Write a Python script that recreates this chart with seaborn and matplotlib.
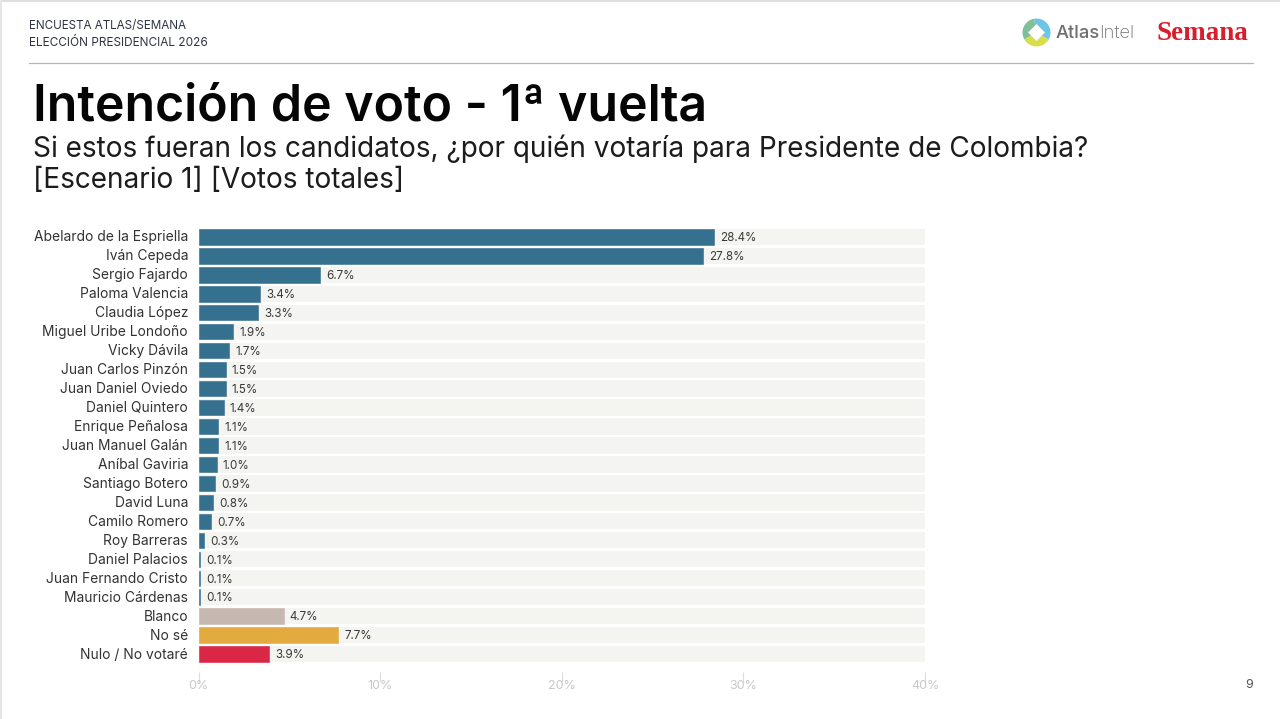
import matplotlib
matplotlib.use("Agg")
import matplotlib.pyplot as plt
from matplotlib.patches import Wedge, Polygon, Rectangle
from matplotlib.transforms import ScaledTranslation
import seaborn as sns
import pandas as pd

candidates = ["Abelardo de la Espriella", "Iván Cepeda", "Sergio Fajardo", "Paloma Valencia",
              "Claudia López", "Miguel Uribe Londoño", "Vicky Dávila", "Juan Carlos Pinzón",
              "Juan Daniel Oviedo", "Daniel Quintero", "Enrique Peñalosa", "Juan Manuel Galán",
              "Aníbal Gaviria", "Santiago Botero", "David Luna", "Camilo Romero", "Roy Barreras",
              "Daniel Palacios", "Juan Fernando Cristo", "Mauricio Cárdenas", "Blanco", "No sé",
              "Nulo / No votaré"]
votes = [28.4, 27.8, 6.7, 3.4, 3.3, 1.9, 1.7, 1.5, 1.5, 1.4, 1.1, 1.1, 1.0, 0.9, 0.8, 0.7, 0.3,
         0.1, 0.1, 0.1, 4.7, 7.7, 3.9]
x_ticks = [0, 10, 20, 30, 40]

BLUE = "#35708f"
bar_colors = [BLUE] * 20 + ["#c6b8b0", "#e3aa3f", "#d92745"]

sns.set_theme(style="white")
plt.rcParams["font.family"] = ["Inter", "DejaVu Sans"]

W, H = 1280, 719
fig = plt.figure(figsize=(W / 100, H / 100), dpi=100, facecolor="white")
ax = fig.add_axes([198.5 / W, 1 - 663.5 / H, (925 - 198.5) / W, 436 / H])

df = pd.DataFrame({"candidato": candidates, "voto": votes, "track": [x_ticks[-1]] * len(votes)})

# light track behind each bar
sns.barplot(data=df, x="track", y="candidato", color="#f4f4f1", width=0.86, saturation=1,
            linewidth=0, ax=ax)
n_track = len(ax.patches)
sns.barplot(data=df, x="voto", y="candidato", hue="candidato", palette=bar_colors, legend=False,
            width=0.81, saturation=1, dodge=False, linewidth=0, ax=ax)

for bar, v in zip(ax.patches[n_track:], votes):
    # thin edge so the 0.1% slivers stay visible
    bar.set_edgecolor(bar.get_facecolor())
    bar.set_linewidth(0.4)
    ax.text(v + 0.33, bar.get_y() + bar.get_height() / 2 + 0.07, f"{v:.1f}%", va="center", ha="left",
            fontsize=8.4, color="#3a3a3a")

ax.set_xlim(0, 40)
ax.set_ylim(len(votes) - 0.5, -0.5)
ax.set_xlabel("")
ax.set_ylabel("")
sns.despine(ax=ax, left=True, bottom=True)
ax.set_xticks(x_ticks)
ax.set_xticklabels([f"{t}%" for t in x_ticks], fontsize=9, color="#c8c8c8")
ax.tick_params(axis="x", length=7, width=0.8, color="#dddddd", pad=5, bottom=True)
ax.tick_params(axis="y", length=0, pad=7.5, labelsize=9.95, labelcolor="#333333")
for t in ax.get_xticklines():
    t.set_transform(t.get_transform() + ScaledTranslation(0, -8 / 100, fig.dpi_scale_trans))
for lab in ax.get_yticklabels():
    lab.set_transform(lab.get_transform() + ScaledTranslation(0, 1 / 100, fig.dpi_scale_trans))

# page furniture, in pixel coords of the slide
page = fig.add_axes([0, 0, 1, 1], zorder=5)
page.set_xlim(0, W)
page.set_ylim(H, 0)
page.axis("off")
page.patch.set_alpha(0)

page.add_patch(Rectangle((0, 0), W, 1.5, color="#dedede", lw=0))
page.add_patch(Rectangle((0, 0), 2, H, color="#e6e6e6", lw=0))
page.plot([29, 1253], [63, 63], color="#b5b5b5", lw=0.9)

page.text(29, 26, "ENCUESTA ATLAS/SEMANA", fontsize=8.4, color="#2e3440", va="center")
page.text(29, 42.5, "ELECCIÓN PRESIDENCIAL 2026", fontsize=8.5, color="#2e3440", va="center")
page.text(33, 107, "Intención de voto - 1ª vuelta", fontsize=36, fontweight="semibold",
          color="#050505", va="center")
page.text(33, 149, "Si estos fueran los candidatos, ¿por quién votaría para Presidente de Colombia?",
          fontsize=20.15, color="#1c1c1c", va="center")
page.text(33, 180, "[Escenario 1] [Votos totales]", fontsize=20.15, color="#1c1c1c", va="center")
page.text(1253, 685, "9", fontsize=9, color="#555555", va="center", ha="right")

# logos (y axis is flipped here, so wedge angles run clockwise on screen)
cx, cy, r = 1036.5, 32.5, 14
page.add_patch(Wedge((cx, cy), r, -100, 30, color="#6cc5e6", lw=0))
page.add_patch(Wedge((cx, cy), r, 150, 260, color="#7fbf9a", lw=0))
page.add_patch(Wedge((cx, cy), r, 30, 150, color="#d9dc4b", lw=0))
s = 8.5
page.add_patch(Polygon([(cx, cy - s), (cx + s, cy), (cx, cy + s), (cx - s, cy)], color="white", lw=0))
page.text(1056, 33, "Atlas", fontsize=13.2, fontweight="medium", color="#6d6f71", va="center")
page.text(1099, 33, "Intel", fontsize=13.2, fontweight="light", color="#6d6f71", va="center")
page.text(1156, 33.5, "Semana", fontsize=19.5, fontweight="bold", family="Liberation Serif",
          color="#d81e2c", va="center")

fig.savefig("out.png", dpi=100, facecolor="white")
